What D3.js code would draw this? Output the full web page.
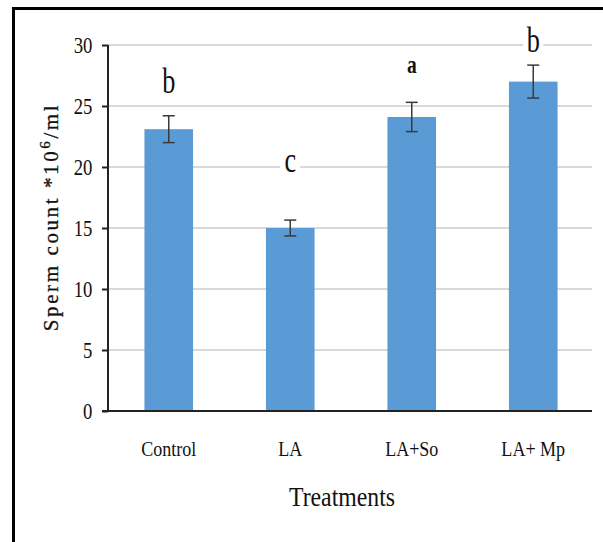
<!DOCTYPE html>
<html>
<head>
<meta charset="utf-8">
<script src="https://cdn.jsdelivr.net/npm/d3@7"></script>
<style>
  html, body { margin: 0; padding: 0; background: #fff; }
  svg { display: block; }
  text { font-family: "Liberation Serif", "Times New Roman", serif; fill: #111; }
</style>
</head>
<body>
<div id="chart"></div>
<script>
const treatments = ["Control", "LA", "LA+So", "LA+ Mp"]
const means = [23.1, 15.0, 24.1, 27.0]
const errors = [1.1, 0.65, 1.2, 1.35]
const letters = ["b", "c", "a", "b"]
const letterY = [93, 172, 73, 52]   // baseline of the significance letters, px
const yTicks = [0, 5, 10, 15, 20, 25, 30]

const width = 603
const height = 542
const margin = { top: 45, right: 9, bottom: 131, left: 108 }

const svg = d3.select("#chart")
  .append("svg")
  .attr("width", width)
  .attr("height", height)

// Frame — only top and left edges show in the picture
svg.append("line")
  .attr("x1", 12).attr("x2", width).attr("y1", 8.5).attr("y2", 8.5)
  .attr("stroke", "#000").attr("stroke-width", 3)
svg.append("line")
  .attr("x1", 13.5).attr("x2", 13.5).attr("y1", 7).attr("y2", height)
  .attr("stroke", "#000").attr("stroke-width", 3)

const x = d3.scaleBand()
  .domain(treatments)
  .range([margin.left, width - margin.right])
  .paddingInner(0.6)
  .paddingOuter(0.3)

const y = d3.scaleLinear()
  .domain([0, 30])
  .range([height - margin.bottom, margin.top])

// Grid
svg.append("g")
  .selectAll("line")
  .data(yTicks.filter(d => d > 0))
  .enter()
  .append("line")
  .attr("x1", margin.left)
  .attr("x2", width - margin.right - 2)
  .attr("y1", d => y(d))
  .attr("y2", d => y(d))
  .attr("stroke", "#d9d9d9")
  .attr("stroke-width", 2)

// Bars
svg.append("g")
  .selectAll("rect")
  .data(treatments)
  .enter()
  .append("rect")
  .attr("x", d => x(d))
  .attr("width", x.bandwidth())
  .attr("y", (d, i) => y(means[i]))
  .attr("height", (d, i) => y(0) - y(means[i]))
  .attr("fill", "#5b9bd5")

// Error bars
const err = svg.append("g")
  .attr("stroke", "#3a3a3a")
  .attr("stroke-width", 1.5)
treatments.forEach((t, i) => {
  const cx = x(t) + x.bandwidth() / 2
  const top = y(means[i] + errors[i])
  const bot = y(means[i] - errors[i])
  err.append("line").attr("x1", cx).attr("x2", cx).attr("y1", top).attr("y2", bot)
  err.append("line").attr("x1", cx - 6).attr("x2", cx + 6).attr("y1", top).attr("y2", top)
  err.append("line").attr("x1", cx - 6).attr("x2", cx + 6).attr("y1", bot).attr("y2", bot)
})

// Axes
const yAxis = svg.append("g")
  .attr("transform", `translate(${margin.left},0)`)
  .call(d3.axisLeft(y).tickValues(yTicks).tickSize(6).tickPadding(14))
yAxis.select(".domain").attr("stroke", "#222").attr("stroke-width", 2)
  .attr("d", `M0,${y(30)}V${y(0)}`)
yAxis.selectAll(".tick line").attr("stroke", "#222").attr("stroke-width", 2)
yAxis.selectAll(".tick text")
  .style("font-size", "24px")
  .style("font-family", "Liberation Serif, serif")
  .attr("fill", "#111")
  .attr("transform", "scale(0.78,1)")

svg.append("line")
  .attr("x1", margin.left - 6)
  .attr("x2", width - margin.right - 2)
  .attr("y1", y(0))
  .attr("y2", y(0))
  .attr("stroke", "#222")
  .attr("stroke-width", 2)

// Category labels
svg.append("g")
  .selectAll("text")
  .data(treatments)
  .enter()
  .append("text")
  .attr("transform", d => `translate(${x(d) + x.bandwidth() / 2},${y(0) + 45}) scale(0.82,1)`)
  .attr("text-anchor", "middle")
  .style("font-size", "22px")
  .text(d => d)

// Significance letters, on white boxes that break the gridlines
const lg = svg.append("g")
letters.forEach((l, i) => {
  const cx = x(treatments[i]) + x.bandwidth() / 2
  const small = l === "a"
  lg.append("rect")
    .attr("x", cx - 10)
    .attr("y", letterY[i] - (l === "b" ? 26 : 16))
    .attr("width", 20)
    .attr("height", l === "b" ? 28 : 18)
    .attr("fill", "#fff")
  lg.append("text")
    .attr("transform", `translate(${cx},${letterY[i]}) scale(0.75,1)`)
    .attr("text-anchor", "middle")
    .style("font-size", small ? "26px" : "35px")
    .style("font-weight", small ? "bold" : "normal")
    .text(l)
})

// Axis titles
const yTitle = svg.append("text")
  .attr("transform", `translate(58,217) rotate(-90)`)
  .attr("text-anchor", "middle")
  .style("font-size", "21px")
  .style("letter-spacing", "2.6px")
  .attr("stroke", "#111")
  .attr("stroke-width", 0.3)
yTitle.append("tspan").text("Sperm count *10")
yTitle.append("tspan").attr("dy", -8).style("font-size", "15px").text("6")
yTitle.append("tspan").attr("dy", 8).text("/ml")

svg.append("text")
  .attr("transform", `translate(342,506) scale(0.88,1)`)
  .attr("text-anchor", "middle")
  .style("font-size", "27px")
  .text("Treatments")
</script>
</body>
</html>
